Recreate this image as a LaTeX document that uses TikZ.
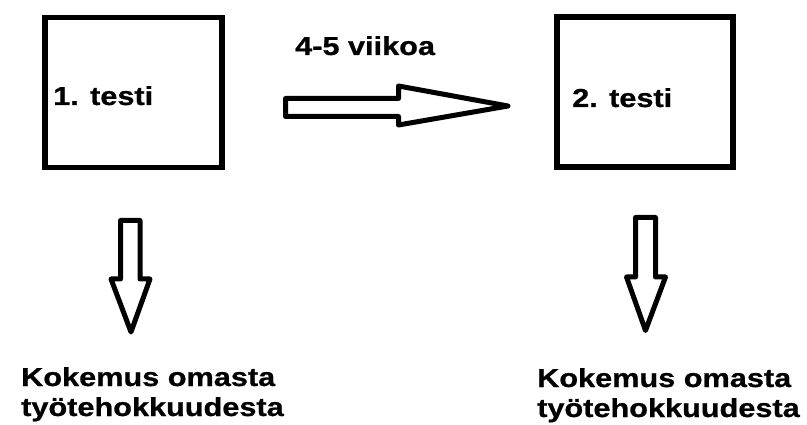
\documentclass[tikz,border=0pt]{standalone}
\usepackage{fontspec}
\newfontfamily\labelfont[FakeStretch=1.18,FakeBold=0.8]{Liberation Sans}
\begin{document}
\begin{tikzpicture}[x=1pt,y=-1pt,
  box/.style={draw=black, line width=5.5pt, inner sep=0pt, anchor=north west},
  lbl/.style={font=\labelfont\bfseries\fontsize{26}{30}\selectfont,
              text=black, inner sep=0pt, anchor=base west, align=left},
  blockarrow/.style={draw=black, line width=5pt, fill=white, line join=round}]
\useasboundingbox (0,0) rectangle (807,425);
\fill[white] (0,0) rectangle (807,425);

% the two test boxes
\node[box, minimum width=177pt, minimum height=150pt] (test1) at (42,15) {};
\node[box, minimum width=176pt, minimum height=150pt] (test2) at (554,14.5) {};
\node[lbl] (t1) at (53,105) {1. testi};
\node[lbl] (t2) at (572,107) {2. testi};

% time between the tests
\node[lbl] (weeks) at (295,55) {4-5 viikoa};
\draw[blockarrow] (285.5,98.5) -- (398.5,98.5) -- (398.5,86) -- (508,106)
  -- (398.5,125) -- (398.5,116.5) -- (285.5,116.5) -- cycle;

% arrows down to the self-assessments
\draw[blockarrow] (120.5,220.5) -- (140,220.5) -- (140,279) -- (150,279)
  -- (131,332) -- (111,279) -- (120.5,279) -- cycle;
\draw[blockarrow] (635.5,217.5) -- (655.5,217.5) -- (655.5,277) -- (665.5,277)
  -- (645.5,330.5) -- (626.5,277) -- (635.5,277) -- cycle;

% self-assessment captions (base anchor sits on the last line)
\node[lbl] (c1) at (21,416) {Kokemus omasta\\työtehokkuudesta};
\node[lbl] (c2) at (537,417) {Kokemus omasta\\työtehokkuudesta};
\end{tikzpicture}
\end{document}
